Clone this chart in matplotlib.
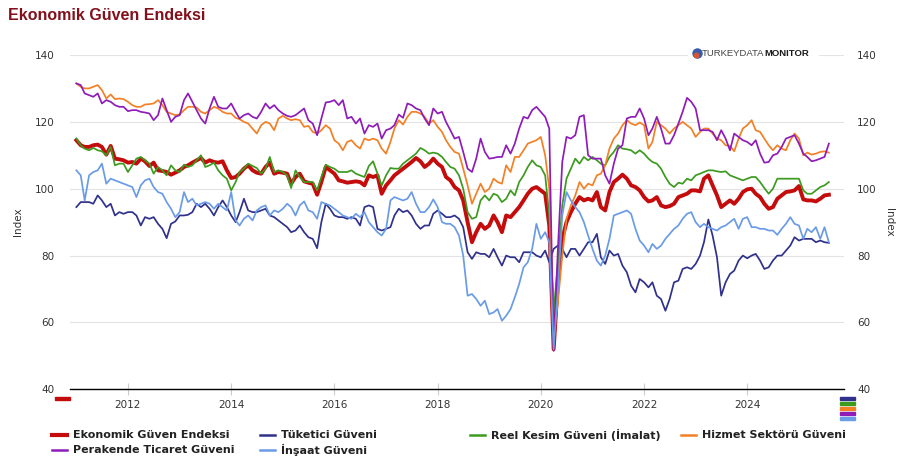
import matplotlib
matplotlib.use("Agg")
import matplotlib.pyplot as plt
import matplotlib.dates as mdates
from matplotlib.lines import Line2D
from matplotlib.patches import Rectangle
import pandas as pd

W, H = 910, 476

# monthly values, Jan 2011 - Aug 2025
months = pd.date_range("2011-01-01", periods=176, freq="MS")

ekonomik = [
    114.5, 113.0, 112.5, 112.5, 113.0, 113.2, 112.5, 110.2, 112.8, 109.0, 108.8, 108.5,
    107.8, 108.0, 107.5, 109.0, 108.2, 106.8, 107.8, 105.5, 105.3, 105.0, 104.2, 104.8,
    105.5, 106.5, 107.0, 107.8, 108.5, 109.2, 107.8, 108.5, 108.0, 107.8, 108.2, 105.5,
    103.2, 103.5, 104.5, 106.0, 107.0, 105.5, 104.8, 104.5, 106.5, 107.8, 104.5, 105.0,
    104.8, 104.5, 101.5, 103.5, 104.5, 102.2, 101.8, 101.5, 98.2, 102.0, 106.5, 105.5,
    104.5, 102.5, 102.2, 101.8, 102.0, 102.2, 102.0, 101.0, 104.0, 103.5, 104.0, 98.5,
    101.0, 102.5, 104.0, 105.0, 106.0, 107.0, 108.0, 109.2, 108.2, 106.5, 107.5, 109.0,
    107.5, 106.5, 103.5, 102.5, 100.5, 99.5, 96.5, 90.0, 84.0, 87.0, 89.5, 88.0,
    89.0, 92.0, 90.0, 87.0, 92.0, 91.5, 93.0, 94.5, 96.5, 98.5, 100.0, 100.5,
    99.5, 98.5, 89.0, 52.0, 72.0, 85.0, 90.0, 93.0, 95.5, 97.5, 96.5, 97.0,
    96.5, 99.0, 94.5, 93.5, 99.0, 102.0, 103.0, 104.2, 103.0, 101.0, 100.5, 99.5,
    97.5, 96.2, 96.5, 97.5, 95.0, 94.5, 94.8, 95.5, 97.5, 98.0, 98.5, 99.5,
    99.5, 99.2, 103.0, 104.0, 101.0, 98.0, 94.5, 95.5, 96.5, 95.5, 97.0, 99.0,
    99.8, 100.0, 98.5, 97.5, 95.5, 94.0, 94.5, 97.0, 98.0, 99.0, 99.2, 99.5,
    100.8, 96.8, 96.5, 96.5, 96.2, 97.0, 98.0, 98.2,
]

tuketici = [
    94.5, 96.0, 96.0, 96.0, 95.5, 98.0, 96.5, 94.5, 95.5, 92.0, 93.0, 92.5,
    93.0, 93.0, 92.0, 89.0, 91.5, 91.0, 91.5, 89.5, 88.0, 85.2, 89.5, 90.2,
    92.0, 92.0, 92.2, 93.0, 95.5, 94.5, 95.5, 94.0, 92.0, 94.5, 96.5, 94.5,
    92.0, 90.0, 93.0, 97.0, 93.5, 93.0, 93.0, 93.5, 94.0, 92.0, 91.5, 90.5,
    89.5, 88.5, 87.0, 87.5, 89.0, 87.0, 85.5, 85.0, 82.2, 90.0, 95.5, 94.0,
    92.0, 91.5, 91.5, 91.0, 91.5, 91.0, 89.0, 94.5, 95.0, 94.5, 88.0, 87.5,
    88.0, 88.5, 92.0, 94.0, 93.0, 93.5, 92.0, 89.5, 88.0, 89.0, 89.0, 92.5,
    93.5, 92.5, 91.5, 91.5, 92.0, 91.0, 88.5, 81.0, 79.0, 81.0, 80.5, 80.5,
    79.5, 82.0, 79.5, 77.0, 80.0, 79.5, 79.5, 78.0, 81.0, 81.0, 81.0, 80.0,
    79.5, 81.5, 78.0, 82.0, 83.0, 82.0, 79.5, 82.0, 82.0, 80.0, 82.0, 84.0,
    84.0, 86.5, 79.5, 77.5, 81.5, 80.0, 80.5, 77.0, 75.0, 71.0, 69.0, 73.0,
    72.0, 70.5, 72.0, 68.0, 67.0, 63.5, 67.0, 72.0, 72.5, 76.0, 76.5, 76.0,
    77.5, 80.0, 84.0, 90.8, 86.0, 79.5, 68.0, 72.0, 74.5, 75.5, 78.5, 80.0,
    79.2, 80.0, 80.5, 78.5, 76.0, 76.5, 78.5, 80.0, 80.0, 81.5, 83.0, 85.5,
    84.5, 85.0, 85.0, 85.0, 84.0, 84.5, 84.0, 83.8,
]

reel_kesim = [
    115.0, 113.0, 112.0, 111.5, 112.2, 111.5, 111.2, 110.0, 112.5, 107.0, 107.5, 107.5,
    105.0, 107.0, 109.0, 109.5, 108.5, 107.5, 104.5, 106.5, 105.5, 104.0, 107.0, 105.5,
    105.0, 107.2, 106.5, 107.0, 108.5, 110.0, 106.5, 107.0, 107.8, 105.5, 104.0, 103.0,
    99.5, 102.0, 105.0, 106.0, 107.5, 106.8, 106.2, 104.5, 106.0, 109.5, 105.0, 105.5,
    105.0, 104.0, 100.2, 105.5, 103.5, 102.0, 102.0, 102.0, 99.5, 103.5, 107.2, 106.5,
    106.0, 105.0, 105.0, 105.0, 105.5, 104.5, 104.0, 103.5, 106.8, 108.2, 104.5, 101.0,
    104.0, 106.2, 106.0, 106.0, 107.5, 108.5, 109.5, 110.5, 112.2, 111.5, 110.5, 110.8,
    110.5, 109.5, 108.0, 106.5, 106.0, 104.0, 100.0, 93.0, 91.0, 91.5, 96.5, 98.0,
    96.5, 98.5, 98.0, 96.0, 97.0, 99.5, 98.0, 102.0, 104.0, 106.5, 108.5, 107.0,
    106.5, 104.0, 92.0, 63.0, 78.0, 95.0, 103.0, 106.0, 109.0, 107.5, 109.5, 108.5,
    109.5, 108.5, 107.5, 107.0, 109.5, 111.0, 113.0, 112.0, 111.8, 111.5, 110.5, 111.5,
    110.5, 109.0, 108.0, 107.5, 106.0, 103.5, 101.5, 100.5, 101.8, 101.5, 103.0, 102.5,
    104.0, 104.5, 105.0, 105.5, 105.5, 105.2, 105.0, 105.2, 104.0, 103.5, 103.0, 102.5,
    103.0, 103.5, 103.5, 102.0, 100.2, 98.5, 100.0, 103.0, 103.0, 103.0, 103.0, 103.0,
    103.0, 99.5, 98.5, 98.5, 99.5, 100.5, 101.0, 102.0,
]

hizmet = [
    131.5, 130.5, 130.0, 130.0, 130.5, 131.0, 129.5, 127.0, 128.2, 126.8, 127.0, 126.8,
    126.0, 125.0, 124.5, 124.5, 125.2, 125.3, 125.5, 126.5, 125.0, 123.0, 122.5, 122.0,
    122.2, 123.5, 124.5, 124.5, 124.3, 123.0, 122.5, 123.5, 124.5, 124.0, 123.0, 122.5,
    122.5, 121.2, 120.8, 120.0, 119.5, 118.0, 116.5, 119.0, 120.0, 119.5, 117.5, 121.0,
    121.8, 121.0, 120.5, 120.8, 120.5, 118.5, 118.8, 117.0, 116.5, 117.5, 119.0, 118.0,
    114.5, 113.5, 111.5, 114.0, 114.5, 113.0, 112.0, 115.0, 114.5, 115.0, 114.5, 112.0,
    110.5, 114.0, 118.0, 120.5, 119.2, 121.5, 123.0, 123.0, 122.5, 121.5, 119.5, 120.5,
    118.5, 117.0, 114.5, 112.5, 111.0, 110.5, 106.0, 101.0, 95.5, 98.5, 101.5, 99.0,
    100.0, 103.0, 102.0, 101.5, 107.0, 105.0, 109.5, 109.5, 111.5, 113.5, 114.0, 114.5,
    115.5, 110.0, 100.0, 56.0, 66.0, 80.0, 91.0, 95.0, 98.0, 102.0, 100.0, 101.5,
    101.0, 104.0, 104.5, 107.0, 112.0, 115.0, 116.5, 119.0, 120.5, 119.5, 119.0, 119.8,
    119.0, 112.0, 114.0, 120.0, 119.0, 118.0, 116.5, 118.0, 119.0, 120.0, 119.0, 118.0,
    115.5, 117.0, 118.0, 118.0, 116.5, 115.0, 114.5, 113.0, 112.8, 111.2, 115.0, 118.0,
    119.0, 120.5, 117.5, 117.0, 115.0, 113.0, 111.5, 113.0, 112.0, 111.5, 114.5, 116.5,
    115.0, 110.0, 110.8, 110.2, 110.5, 111.0, 111.2, 110.8,
]

perakende = [
    131.5, 131.0, 128.5, 128.0, 127.5, 128.5, 125.5, 126.5, 126.0, 125.0, 124.5, 124.5,
    123.2, 123.5, 123.5, 123.0, 122.8, 122.5, 120.5, 122.0, 127.0, 123.5, 120.0, 121.5,
    122.0, 126.5, 128.5, 126.0, 123.5, 121.0, 119.5, 124.0, 127.5, 124.5, 124.0, 124.0,
    125.5, 123.0, 121.0, 122.0, 122.5, 121.5, 121.0, 123.0, 125.5, 124.0, 125.0, 123.5,
    122.5, 121.8, 121.5, 122.0, 123.0, 124.0, 120.5, 119.5, 116.0, 121.0, 125.8, 126.0,
    126.5, 125.0, 126.5, 121.0, 121.5, 119.5, 121.0, 116.5, 119.0, 118.5, 119.5, 115.0,
    117.5, 118.0, 119.0, 122.2, 121.2, 125.5, 125.0, 124.0, 123.5, 121.0, 119.0, 124.0,
    122.5, 123.0, 120.0, 117.5, 115.0, 115.5, 111.0, 106.0, 105.0, 109.0, 115.0, 111.0,
    109.0, 109.2, 109.5, 109.5, 113.0, 110.5, 113.5, 118.0, 121.5, 121.0, 123.5, 124.5,
    123.0, 121.5, 118.0, 51.5, 82.0, 108.0, 115.5, 115.0, 116.0, 121.5, 122.0, 110.0,
    109.0, 109.0, 109.0, 104.0, 101.5, 107.5, 112.0, 113.0, 121.0, 121.5, 121.5, 124.0,
    121.0, 116.0, 118.0, 121.5, 118.0, 113.5, 113.5, 116.0, 119.5, 123.0, 127.2, 126.0,
    124.0, 117.5, 117.5, 117.5, 117.0, 114.5, 117.5, 115.0, 111.5, 116.5, 115.5, 114.5,
    114.0, 113.0, 114.5, 110.5, 107.8, 108.0, 110.0, 110.5, 112.5, 115.0, 115.5, 116.0,
    113.5, 110.5, 109.5, 108.2, 108.5, 109.0, 109.5, 113.5,
]

insaat = [
    105.5, 104.0, 96.5, 104.0, 105.0, 105.5, 107.5, 101.5, 103.0, 102.5, 102.0, 101.5,
    101.0, 100.5, 97.5, 101.0, 102.5, 103.0, 100.5, 99.0, 98.5, 96.0, 94.0, 91.5,
    93.0, 99.0, 96.0, 97.0, 95.0, 95.5, 96.0, 95.5, 94.0, 95.5, 94.5, 93.5,
    99.0, 90.5, 89.0, 91.0, 92.0, 90.5, 93.5, 94.5, 95.0, 92.0, 93.5, 93.0,
    94.0, 95.5, 94.5, 92.0, 95.0, 96.2, 93.5, 93.0, 91.0, 96.0, 95.5, 95.0,
    94.0, 93.0, 92.0, 91.5, 91.0, 92.5, 91.5, 93.0, 90.0, 88.5, 87.0, 86.0,
    88.0, 96.5, 97.5, 97.0, 96.5, 97.0, 99.0, 95.5, 93.0, 93.0, 94.5, 96.8,
    94.5, 90.0, 89.5, 89.5, 88.5, 86.0, 80.0, 68.0, 68.5, 67.0, 65.0, 66.5,
    62.5, 63.0, 64.0, 60.5, 62.0, 64.0, 67.5, 71.5, 76.5, 78.0, 82.0, 89.5,
    85.0, 87.0, 84.0, 52.0, 70.0, 92.0, 99.0, 96.5, 94.5, 93.0, 90.0, 86.0,
    82.0, 78.5, 77.0, 80.0, 85.0, 92.0, 92.5, 93.0, 93.5, 92.5, 88.0, 84.5,
    83.0, 81.0, 83.5, 82.0, 83.0, 85.0, 86.5, 88.0, 89.0, 91.0, 92.5, 93.0,
    90.0, 88.5, 89.5, 88.5, 88.0, 87.5, 88.5, 89.0, 90.0, 91.0, 88.0, 91.0,
    91.5, 88.5, 88.5, 88.0, 88.0, 87.5, 87.5, 86.2, 88.0, 89.5, 91.5, 89.5,
    89.0, 85.0, 88.0, 87.0, 88.5, 85.0, 88.5, 84.0,
]

names = ["Ekonomik Güven Endeksi", "Tüketici Güveni", "Reel Kesim Güveni (İmalat)",
         "Hizmet Sektörü Güveni", "Perakende Ticaret Güveni", "İnşaat Güveni"]
values = [ekonomik, tuketici, reel_kesim, hizmet, perakende, insaat]
colors = ["#c40c0c", "#2f318b", "#3c9a1f", "#f28025", "#8f1cb8", "#6a9be6"]
widths = [2.8, 1.25, 1.25, 1.25, 1.25, 1.25]


def fx(px):
    return px / W


def fy(py):
    return 1 - py / H


plt.rcParams["font.family"] = ["DejaVu Sans"]
fig = plt.figure(figsize=(W / 100, H / 100), dpi=100)
ax = fig.add_axes([fx(70), fy(389.3), 774 / W, 334.3 / H])

for vals, col, lw in zip(values, colors, widths):
    ax.plot(months, vals, color=col, lw=lw, solid_joinstyle="round")

ax.set_ylim(40, 140)
ax.set_yticks(range(40, 141, 20))
ax.set_xlim(pd.Timestamp("2010-11-17"), pd.Timestamp("2025-11-16"))
ax.xaxis.set_major_locator(mdates.YearLocator(2))
ax.xaxis.set_major_formatter(mdates.DateFormatter("%Y"))
ax.yaxis.grid(True, color="#e3e3e3", lw=0.8)
ax.set_axisbelow(True)
for s in ["top", "left", "right"]:
    ax.spines[s].set_visible(False)
ax.spines["bottom"].set_color("black")
ax.spines["bottom"].set_linewidth(1.0)
ax.tick_params(axis="y", length=0, pad=11, labelsize=7.5, labelcolor="#333333")
ax.tick_params(axis="x", direction="inout", length=9, width=0.8, color="#cccccc",
               pad=3, labelsize=7.5, labelcolor="#333333")
ax.set_ylabel("Index", fontsize=7.5, color="#333333", ha="center", va="center")
ax.yaxis.set_label_coords(-0.067, 0.5)

ax2 = ax.twinx()
ax2.set_ylim(40, 140)
ax2.set_yticks(range(40, 141, 20))
for s in ax2.spines.values():
    s.set_visible(False)
ax2.tick_params(axis="y", length=0, pad=9.5, labelsize=7.5, labelcolor="#333333")
ax2.set_ylabel("Index", fontsize=7.5, color="#333333", rotation=270,
               ha="center", va="center")
ax2.yaxis.set_label_coords(1.058, 0.5)

# title
fig.text(fx(8), fy(15), "Ekonomik Güven Endeksi", color="#83101a", fontsize=11.5,
         fontweight="bold", family=["Liberation Sans", "DejaVu Sans"],
         ha="left", va="center")

# logo
fig.add_artist(Rectangle((fx(688), fy(61)), 130 / W, 12 / H, color="white",
                         transform=fig.transFigure, zorder=5))
fig.add_artist(Line2D([fx(697)], [fy(53)], marker="o", ms=6.5, color="#3a5ba8",
                      transform=fig.transFigure, zorder=6))
fig.add_artist(Line2D([fx(696)], [fy(54.5)], marker="o", ms=3.2, color="#d8552f",
                      transform=fig.transFigure, zorder=7))
t1 = fig.text(fx(702), fy(53), "TURKEYDATA", fontsize=6.8, color="#444444",
              family=["Liberation Sans Narrow", "Liberation Sans"],
              ha="left", va="center", zorder=7)
fig.add_artist(plt.Annotation("MONITOR", xy=(1, 0.5), xycoords=t1, va="center",
                              ha="left", fontsize=6.8, fontweight="bold",
                              color="#1a1a1a", zorder=7,
                              family=["Liberation Sans Narrow", "Liberation Sans"]))

# navigator markers
fig.add_artist(Rectangle((fx(55), fy(400)), 15 / W, 3 / H, color=colors[0],
                         transform=fig.transFigure))
for i, col in enumerate(colors[1:]):
    y0 = 399.5 + 5 * i
    fig.add_artist(Rectangle((fx(840), fy(y0)), 15 / W, 2.2 / H, color=col,
                             transform=fig.transFigure))

# legend
col_x = [52, 260, 470, 681]
row_y = [435, 450]
for i, (name, col) in enumerate(zip(names, colors)):
    x0 = col_x[i % 4]
    y0 = row_y[i // 4]
    lw = 3.0 if i == 0 else 1.8
    fig.add_artist(Line2D([fx(x0), fx(x0 + 15)], [fy(y0), fy(y0)], color=col,
                          lw=lw, transform=fig.transFigure))
    fig.text(fx(x0 + 21), fy(y0), name, fontsize=8, fontweight="bold",
             color="#222222", ha="left", va="center")

fig.savefig("out.png", dpi=100)
